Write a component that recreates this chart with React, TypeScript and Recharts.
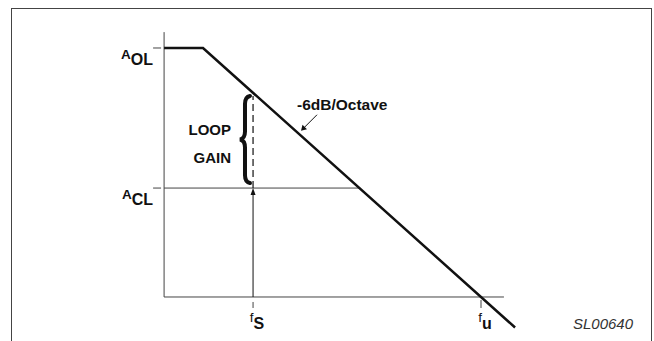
import { LineChart, Line, XAxis, YAxis, ReferenceLine, ReferenceDot } from 'recharts'

// Bode plot: x is log10(frequency) in decades, y is gain in dB
const openLoopLogF = [0.44, 1, 5.49]
const openLoopGain = [80, 80, -9.8]

const aolGain = 80
const aclGain = 35
const fsLogF = 1.72
const fuLogF = 5
const aclCrossLogF = 3.25 // where A_CL meets the roll-off
const fsRollOffGain = 64.6 // roll-off gain at fS
const yAxisLogF = 0.44
const yAxisTopGain = 85.1
const xAxisEndLogF = 5.33
const braceLogF = 1.604
const braceGain = [64.6, 36.6]
const slopeNoteLogF = 2.41
const slopeNoteGain = 51.8

const yTickLabels = [
  { value: aolGain, main: 'A', sub: 'OL' },
  { value: aclGain, main: 'A', sub: 'CL' },
]
const xTickLabels = [
  { value: fsLogF, main: 'f', sub: 'S', dashed: true },
  { value: fuLogF, main: 'f', sub: 'u', dashed: false },
]
const slopeNote = '-6dB/Octave'
const loopGainLines = ['LOOP', 'GAIN']
const figureId = 'SL00640'

const data = openLoopLogF.map((logF, i) => ({ logF, gain: openLoopGain[i] }))

const ink = '#111'
const axisInk = '#444'
const font = '"Liberation Sans", Arial, Helvetica, sans-serif'

function YTick({ cx, cy, main, sub }: { cx: number; cy: number; main: string; sub: string }) {
  return (
    <g>
      <line x1={cx - 11} x2={cx - 3} y1={cy} y2={cy} stroke={axisInk} strokeWidth={1} />
      <text x={cx - 11} y={cy + 11} textAnchor="end" fontFamily={font} fontWeight="bold" fill={ink}>
        <tspan fontSize={13.5}>{main}</tspan>
        <tspan fontSize={16} dy={6}>{sub}</tspan>
      </text>
    </g>
  )
}

function XTick({ cx, cy, main, sub, dashed }: { cx: number; cy: number; main: string; sub: string; dashed: boolean }) {
  return (
    <g>
      <line x1={cx} x2={cx} y1={cy + (dashed ? 5 : 3)} y2={cy + 11} stroke={axisInk} strokeWidth={1} />
      <text x={cx + 4} y={cy + 25} textAnchor="middle" fontFamily={font} fill={ink}>
        <tspan fontSize={13.5}>{main}</tspan>
        <tspan fontSize={16} fontWeight="bold" dy={7}>{sub}</tspan>
      </text>
    </g>
  )
}

function UpArrow(p: any) {
  const top = Math.min(p.y1, p.y2)
  const bottom = Math.max(p.y1, p.y2)
  return (
    <g>
      <line x1={p.x1} x2={p.x1} y1={bottom} y2={top + 5} stroke={ink} strokeWidth={1} />
      <polygon points={`${p.x1},${top} ${p.x1 - 2.5},${top + 7} ${p.x1 + 2.5},${top + 7}`} fill={ink} />
    </g>
  )
}

function Brace(p: any) {
  const x = p.x1
  const top = Math.min(p.y1, p.y2)
  const bottom = Math.max(p.y1, p.y2)
  const mid = (top + bottom) / 2
  const d = [
    `M ${x + 5} ${top}`,
    `Q ${x} ${top + 1} ${x} ${top + 8}`,
    `L ${x} ${mid - 8}`,
    `Q ${x} ${mid - 1} ${x - 5} ${mid}`,
    `Q ${x} ${mid + 1} ${x} ${mid + 8}`,
    `L ${x} ${bottom - 8}`,
    `Q ${x} ${bottom - 1} ${x + 5} ${bottom}`,
  ].join(' ')
  return (
    <g>
      <path d={d} fill="none" stroke={ink} strokeWidth={4} strokeLinecap="round" />
      {loopGainLines.map((t, i) => (
        <text
          key={t}
          x={x - 14}
          y={mid - 5 + i * 28}
          textAnchor="end"
          fontFamily={font}
          fontWeight="bold"
          fontSize={15}
          fill={ink}
        >
          {t}
        </text>
      ))}
    </g>
  )
}

function SlopeNote({ cx, cy }: { cx: number; cy: number }) {
  return (
    <g>
      <text x={cx - 4} y={cy - 26} fontFamily={font} fontWeight="bold" fontSize={15.5} fill={ink}>
        {slopeNote}
      </text>
      <line x1={cx + 16} y1={cy - 21} x2={cx + 3} y2={cy - 8} stroke={ink} strokeWidth={1} />
      <polygon
        points={`${cx},${cy - 5} ${cx + 1.5},${cy - 11} ${cx + 6},${cy - 6.5}`}
        fill={ink}
      />
    </g>
  )
}

export default function App() {
  return (
    <div style={{ position: 'absolute', left: 0, top: 0, width: 654, height: 341 }}>
      <div
        style={{
          position: 'absolute',
          left: 11,
          top: 8,
          width: 639,
          height: 333,
          borderStyle: 'solid',
          borderColor: '#444',
          borderWidth: '1.5px 1.5px 0 1.5px',
        }}
      />
      <div style={{ position: 'absolute', left: 0, top: 0 }}>
        <LineChart width={654} height={341} data={data} margin={{ top: 0, right: 0, bottom: 0, left: 0 }}>
          <XAxis dataKey="logF" type="number" domain={[-1.921, 7.489]} allowDataOverflow hide />
          <YAxis type="number" domain={[-14.14, 95.42]} allowDataOverflow hide />
          <ReferenceLine
            segment={[{ x: yAxisLogF, y: 0 }, { x: yAxisLogF, y: yAxisTopGain }]}
            stroke={axisInk}
            strokeWidth={1}
          />
          <ReferenceLine
            segment={[{ x: yAxisLogF, y: 0 }, { x: xAxisEndLogF, y: 0 }]}
            stroke={axisInk}
            strokeWidth={1}
          />
          <ReferenceLine
            segment={[{ x: yAxisLogF, y: aclGain }, { x: aclCrossLogF, y: aclGain }]}
            stroke={axisInk}
            strokeWidth={1}
          />
          <ReferenceLine
            segment={[{ x: fsLogF, y: aclGain }, { x: fsLogF, y: fsRollOffGain }]}
            stroke={ink}
            strokeWidth={1.2}
            strokeDasharray="7 4"
          />
          <ReferenceLine segment={[{ x: fsLogF, y: 0 }, { x: fsLogF, y: aclGain }]} shape={UpArrow} />
          <ReferenceLine
            segment={[{ x: braceLogF, y: braceGain[0] }, { x: braceLogF, y: braceGain[1] }]}
            shape={Brace}
          />
          {yTickLabels.map((t) => (
            <ReferenceDot
              key={t.sub}
              x={yAxisLogF}
              y={t.value}
              r={1}
              shape={(p: any) => <YTick cx={p.cx} cy={p.cy} main={t.main} sub={t.sub} />}
            />
          ))}
          {xTickLabels.map((t) => (
            <ReferenceDot
              key={t.sub}
              x={t.value}
              y={0}
              r={1}
              shape={(p: any) => <XTick cx={p.cx} cy={p.cy} main={t.main} sub={t.sub} dashed={t.dashed} />}
            />
          ))}
          <ReferenceDot
            x={slopeNoteLogF}
            y={slopeNoteGain}
            r={1}
            shape={(p: any) => <SlopeNote cx={p.cx} cy={p.cy} />}
          />
          <Line
            dataKey="gain"
            type="linear"
            stroke={ink}
            strokeWidth={2.5}
            dot={false}
            activeDot={false}
            isAnimationActive={false}
          />
        </LineChart>
      </div>
      <div
        style={{
          position: 'absolute',
          left: 573,
          top: 316,
          fontFamily: font,
          fontStyle: 'italic',
          fontSize: 15,
          lineHeight: 1,
          color: '#333',
        }}
      >
        {figureId}
      </div>
    </div>
  )
}
